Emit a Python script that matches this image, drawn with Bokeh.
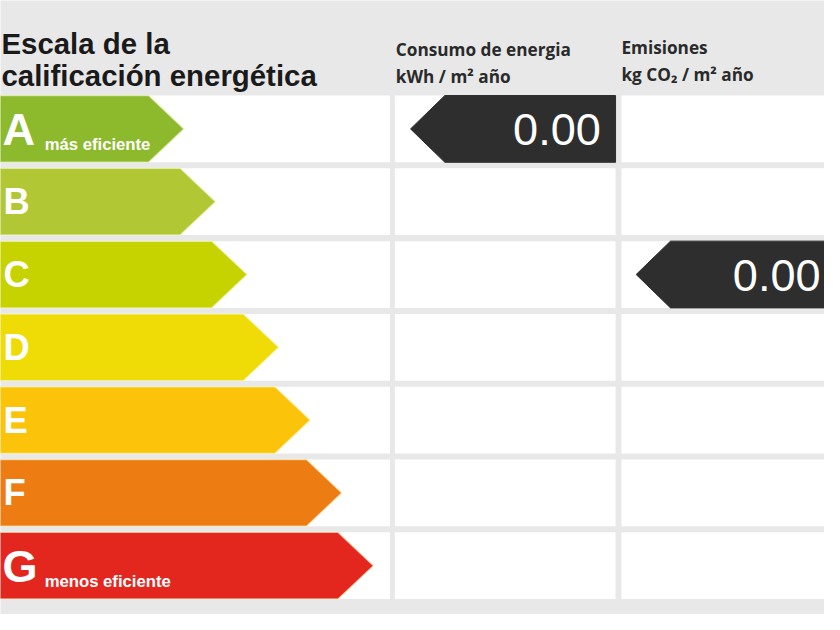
from bokeh.plotting import figure
from bokeh.models import Range1d
from bokeh.embed import file_html
from bokeh.resources import INLINE
from bokeh.core.properties import value

# ---- data ----
grades = ["A", "B", "C", "D", "E", "F", "G"]
grade_colors = ["#8cba2c", "#b1c834", "#c7d300", "#efdc06", "#fbc30a", "#ed7c12", "#e3271f"]
grade_notes = ["más eficiente", "", "", "", "", "", "menos eficiente"]
title_lines = ["Escala de la", "calificación energética"]
energy_header = ["Consumo de energia", "kWh / m² año"]
emission_header = ["Emisiones", "kg CO₂ / m² año"]
energy_value = 0.00
energy_grade = "A"
emission_value = 0.00
emission_grade = "C"

# ---- layout (reference pixel space) ----
W, H = 840, 630
S = 824 / 840.0
row_top0, row_pitch, row_h = 97.5, 74.7, 68.5
col1 = (0, 397)
col2 = (402, 627)
col3 = (633, 845)

p = figure(width=824, height=614, x_range=Range1d(0, W), y_range=Range1d(H, 0),
           output_backend="svg", toolbar_location=None, min_border=0)
p.axis.visible = False
p.grid.visible = False
p.outline_line_color = None
p.background_fill_color = "#e8e8e8"
p.border_fill_color = "#e8e8e8"

n = len(grades)
tops = [row_top0 + i * row_pitch for i in range(n)]
bots = [t + row_h for t in tops]
mids = [(t + b) / 2 for t, b in zip(tops, bots)]

# white cells
for (x0, x1) in (col1, col2, col3):
    p.quad(left=[x0] * n, right=[x1] * n, top=tops, bottom=bots,
           fill_color="white", line_color=None)

# grade arrows
xs, ys = [], []
for i in range(n):
    tip = 187 + 32.2 * i
    body = tip - 36
    xs.append([-5, body, tip, body, -5])
    ys.append([tops[i], tops[i], mids[i], bots[i], bots[i]])
p.patches(xs=xs, ys=ys, fill_color=grade_colors, line_color="#f4f7cf", line_width=1.5, line_alpha=0.6)

# grade letters
for i, g in enumerate(grades):
    fs = 46 if grade_notes[i] else 37
    p.text(x=[2 if grade_notes[i] else 3], y=[mids[i] + (1 if grade_notes[i] else 0)], text=[g],
           text_font=value("Liberation Sans"), text_font_style="bold",
           text_font_size=f"{fs * S:.1f}px", text_color="white",
           text_baseline="middle", text_align="left")
    if grade_notes[i]:
        p.text(x=[45], y=[mids[i] + 16], text=[grade_notes[i]],
               text_font=value("Liberation Sans"), text_font_style="bold",
               text_font_size=f"{17 * S:.1f}px", text_color="white",
               text_baseline="alphabetic", text_align="left")

# title
for k, line in enumerate(title_lines):
    p.text(x=[1], y=[44 + 33 * k], text=[line],
           text_font=value("Liberation Sans"), text_font_style="bold",
           text_font_size=f"{30 * S:.1f}px",
           text_color="#1a1a1a", text_baseline="alphabetic", text_align="left")

# column headers
for k, line in enumerate(energy_header):
    p.text(x=[403], y=[50 + 28 * k], text=[line],
           text_font=value("Open Sans"), text_font_style="bold",
           text_font_size=f"{17.5 * S:.1f}px", text_color="#2a2a2a",
           text_baseline="alphabetic", text_align="left")
for k, line in enumerate(emission_header):
    p.text(x=[633], y=[48 + 28 * k], text=[line],
           text_font=value("Open Sans"), text_font_style="bold",
           text_font_size=f"{17.5 * S:.1f}px", text_color="#2a2a2a",
           text_baseline="alphabetic", text_align="left")

# value markers
def marker(grade, val, left, right, text_x, align):
    i = grades.index(grade)
    depth = 35
    p.patch(x=[left, left + depth, right, right, left + depth],
            y=[mids[i], tops[i], tops[i], bots[i], bots[i]],
            fill_color="#2e2e2e", line_color="#2e2e2e")
    p.text(x=[text_x], y=[mids[i] + 1], text=[f"{val:.2f}"],
           text_font=value("Liberation Sans"), text_font_size=f"{46 * S:.1f}px",
           text_color="white", text_baseline="middle", text_align=align)

marker(energy_grade, energy_value, 418, 627, 612, "right")
marker(emission_grade, emission_value, 648, 860, 836, "right")

open("out.html", "w").write(file_html(p, INLINE))
